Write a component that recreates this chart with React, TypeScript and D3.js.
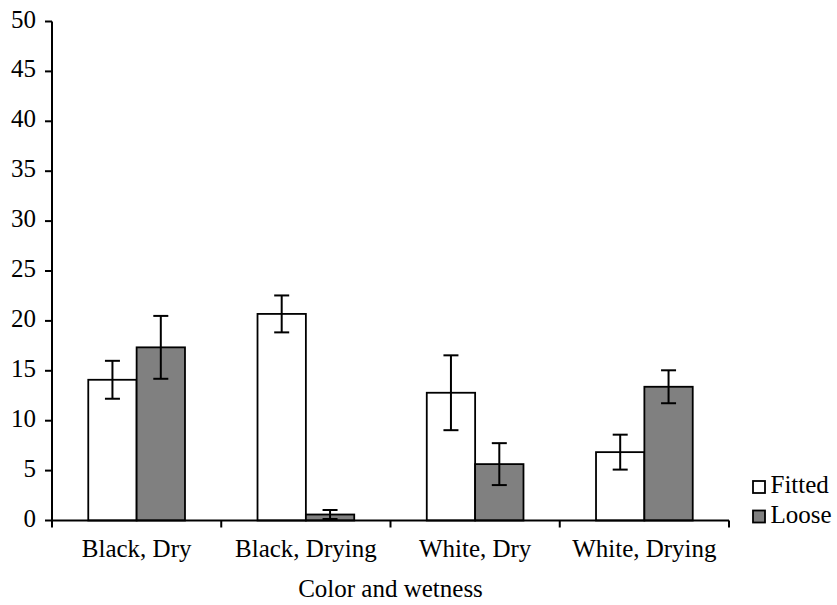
import React from "react";
import * as d3 from "d3";

const categories = ["Black, Dry", "Black, Drying", "White, Dry", "White, Drying"];
const seriesNames = ["Fitted", "Loose"];
const fittedValues = [14.1, 20.7, 12.8, 6.85];
const fittedErrors = [1.9, 1.85, 3.75, 1.75];
const looseValues = [17.35, 0.6, 5.65, 13.4];
const looseErrors = [3.15, 0.45, 2.1, 1.65];
const yTicks = [0, 5, 10, 15, 20, 25, 30, 35, 40, 45, 50];
const xTitle = "Color and wetness";

const W = 837;
const H = 605;
const FONT = "Liberation Serif, Tinos, Times New Roman, Times, DejaVu Serif, serif";
const FS = 25;
const fills = ["#ffffff", "#808080"];

export default function App() {
  const x0 = d3.scaleBand<string>().domain(categories).range([52, 729]).paddingInner(0).paddingOuter(0);
  const y = d3.scaleLinear().domain([0, 50]).range([520.5, 21.5]);
  const groupW = x0.bandwidth();
  const barW = groupW / 3.5;
  const x1 = d3.scaleBand<string>().domain(seriesNames).range([(groupW - 2 * barW) / 2, (groupW + 2 * barW) / 2]).padding(0);

  const series = [
    { name: "Fitted", values: fittedValues, errors: fittedErrors, fill: fills[0] },
    { name: "Loose", values: looseValues, errors: looseErrors, fill: fills[1] },
  ];

  const boundaries = [...categories.map((c) => x0(c) as number), 729];
  const capW = 15;
  const ts: React.CSSProperties = { fontFamily: FONT, fontSize: FS };

  return (
    <svg width={W} height={H} style={{ position: "absolute", left: 0, top: 0, background: "#fff" }}>
      <rect x={0} y={0} width={W} height={H} fill="#fff" />
      {series.map((s) =>
        categories.map((c, i) => {
          const bx = (x0(c) as number) + (x1(s.name) as number);
          const by = y(s.values[i]);
          return (
            <rect
              key={s.name + c}
              x={bx}
              y={by}
              width={x1.bandwidth()}
              height={y(0) - by}
              fill={s.fill}
              stroke="#000"
              strokeWidth={1.8}
            />
          );
        })
      )}
      {series.map((s) =>
        categories.map((c, i) => {
          const cx = (x0(c) as number) + (x1(s.name) as number) + x1.bandwidth() / 2;
          const yt = y(s.values[i] + s.errors[i]);
          const yb = y(s.values[i] - s.errors[i]);
          return (
            <g key={"e" + s.name + c} stroke="#000" strokeWidth={2}>
              <line x1={cx} x2={cx} y1={yt} y2={yb} />
              <line x1={cx - capW / 2} x2={cx + capW / 2} y1={yt} y2={yt} />
              <line x1={cx - capW / 2} x2={cx + capW / 2} y1={yb} y2={yb} />
            </g>
          );
        })
      )}
      <line x1={52} x2={52} y1={y(50)} y2={y(0)} stroke="#000" strokeWidth={2} />
      {yTicks.map((t) => (
        <g key={"yt" + t}>
          <line x1={45} x2={52} y1={y(t)} y2={y(t)} stroke="#000" strokeWidth={2} />
          <text x={36} y={y(t) + 6} textAnchor="end" style={ts} fill="#000">
            {t}
          </text>
        </g>
      ))}
      <line x1={52} x2={729} y1={y(0)} y2={y(0)} stroke="#000" strokeWidth={2} />
      {boundaries.map((bx, i) => (
        <line key={"xt" + i} x1={bx} x2={bx} y1={y(0)} y2={y(0) + 7} stroke="#000" strokeWidth={2} />
      ))}
      {categories.map((c) => (
        <text key={"xl" + c} x={(x0(c) as number) + groupW / 2} y={557} textAnchor="middle" style={ts} fill="#000">
          {c}
        </text>
      ))}
      <text x={390.5} y={597} textAnchor="middle" style={ts} fill="#000">
        {xTitle}
      </text>
      {series.map((s, i) => (
        <g key={"lg" + s.name}>
          <rect x={753} y={481 + i * 29.5} width={12} height={12} fill={s.fill} stroke="#000" strokeWidth={1.8} />
          <text x={770.5} y={493 + i * 29.5} style={ts} fill="#000">
            {s.name}
          </text>
        </g>
      ))}
    </svg>
  );
}
